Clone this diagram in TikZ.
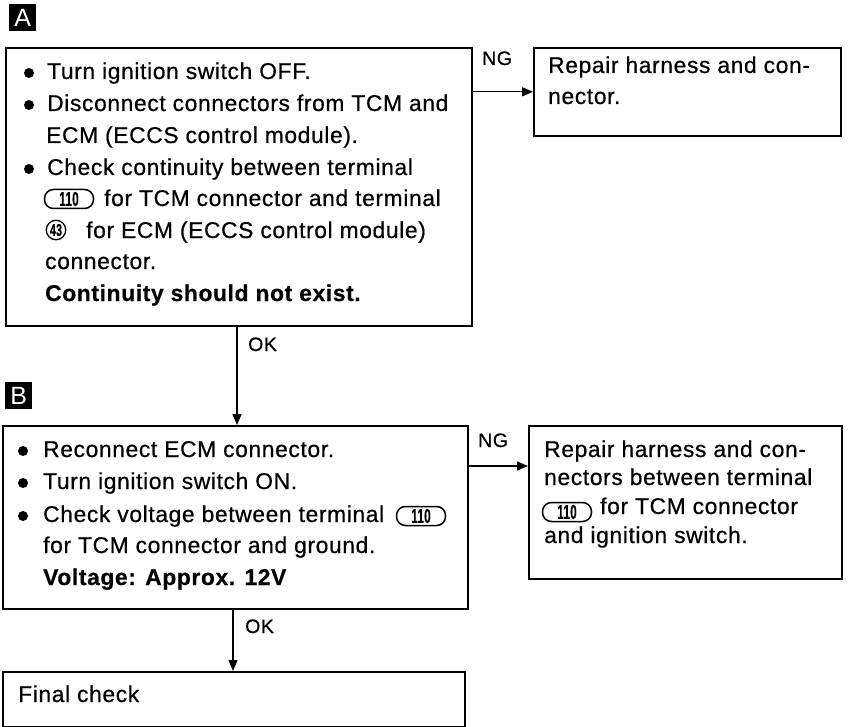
\documentclass[tikz,border=0pt]{standalone}
\usepackage{fontspec}
\setmainfont{Liberation Sans}[LetterSpace=2.8,FakeBold=0.6]
\newfontfamily\tagfont{Liberation Sans}
\usetikzlibrary{arrows.meta}
\begin{document}
\begin{tikzpicture}[x=1pt,y=-1pt,
  box/.style={draw, line width=1.6pt, anchor=north west, inner sep=0pt},
  txt/.style={anchor=base west, inner sep=0pt, font=\fontsize{22.8}{22.8}\selectfont},
  btxt/.style={txt, font=\fontsize{22.8}{22.8}\selectfont\bfseries},
  lbl/.style={anchor=base west, inner sep=0pt, font=\fontsize{19.5}{19.5}\selectfont},
  arr/.style={line width=1.4pt, -{Triangle[length=11pt,width=9pt]}},
  dot/.style={circle, fill, inner sep=0pt, minimum size=10pt},
  term/.style={draw, line width=1.5pt, rounded corners=9pt, minimum height=19pt, minimum width=49pt, inner sep=0pt, font=\fontsize{20}{20}\selectfont\bfseries},
  cterm/.style={draw, circle, line width=1.3pt, minimum size=19.5pt, inner sep=0pt, font=\fontsize{17}{17}\selectfont\bfseries},
  tag/.style={fill=black, text=white, minimum width=27pt, minimum height=27pt, inner sep=0pt, anchor=north west, font=\tagfont\fontsize{25}{25}\selectfont}]
\useasboundingbox (0,0) rectangle (850,727);

% step labels
\node[tag] (tagA) at (9,4) {A};
\node[tag] (tagB) at (5,382) {B};

% boxes
\node[box, minimum width=466pt, minimum height=278pt] (A) at (5,47) {};
\node[box, minimum width=307pt, minimum height=88pt] (N1) at (533,47) {};
\node[box, minimum width=465pt, minimum height=183pt] (B) at (2,425) {};
\node[box, minimum width=313pt, minimum height=153pt] (N2) at (528,425) {};
\node[box, minimum width=462pt, minimum height=55pt] (F) at (2,671) {};

% box A text
\node[dot] (a1d) at (29,73) {};
\node[txt] (a1) at (47,79) {Turn ignition switch OFF.};
\node[dot] (a2d) at (29,105) {};
\node[txt] (a2) at (47,111) {Disconnect connectors from TCM and};
\node[txt] (a3) at (46,143) {ECM (ECCS control module).};
\node[dot] (a4d) at (29,169) {};
\node[txt] (a4) at (47,175) {Check continuity between terminal};
\node[term] (a5t) at (69,199) {\scalebox{0.58}[1]{110}};
\node[txt] (a5) at (104,206) {for TCM connector and terminal};
\node[cterm] (a6t) at (56,230) {\scalebox{0.62}[1]{43}};
\node[txt] (a6) at (86,238) {for ECM (ECCS control module)};
\node[txt] (a7) at (45,269) {connector.};
\node[btxt] (a8) at (45,301) {Continuity should not exist.};

% NG box 1 text
\node[txt] (n11) at (548,73) {Repair harness and con-};
\node[txt] (n12) at (548,104) {nector.};

% box B text
\node[dot] (b1d) at (23,451) {};
\node[txt] (b1) at (43,457) {Reconnect ECM connector.};
\node[dot] (b2d) at (23,483) {};
\node[txt] (b2) at (43,489) {Turn ignition switch ON.};
\node[dot] (b3d) at (23,516) {};
\node[txt] (b3) at (43,522) {Check voltage between terminal};
\node[term] (b3t) at (421,516) {\scalebox{0.58}[1]{110}};
\node[txt] (b4) at (43,553) {for TCM connector and ground.};
\node[btxt] (b5) at (43,585) {Voltage: Approx. 12V};

% NG box 2 text
\node[txt] (n21) at (544,457) {Repair harness and con-};
\node[txt] (n22) at (544,485) {nectors between terminal};
\node[term] (n23t) at (567,512) {\scalebox{0.58}[1]{110}};
\node[txt] (n23) at (600,514) {for TCM connector};
\node[txt] (n24) at (544,543) {and ignition switch.};

% final
\node[txt] (f1) at (18,702) {Final check};

% connectors
\coordinate (okA) at (237,325);
\coordinate (okB) at (233,608);
\coordinate (ngB) at (467,466);
\draw[arr] (A.east |- N1.west) -- (N1.west);
\draw[arr] (okA) -- (okA |- B.north);
\draw[arr] (ngB) -- (ngB -| N2.west);
\draw[arr] (okB) -- (okB |- F.north);

% connector labels
\node[lbl] (ng1) at (482,65) {NG};
\node[lbl] (ok1) at (248,351) {OK};
\node[lbl] (ng2) at (478,447) {NG};
\node[lbl] (ok2) at (245,633) {OK};
\end{tikzpicture}
\end{document}
